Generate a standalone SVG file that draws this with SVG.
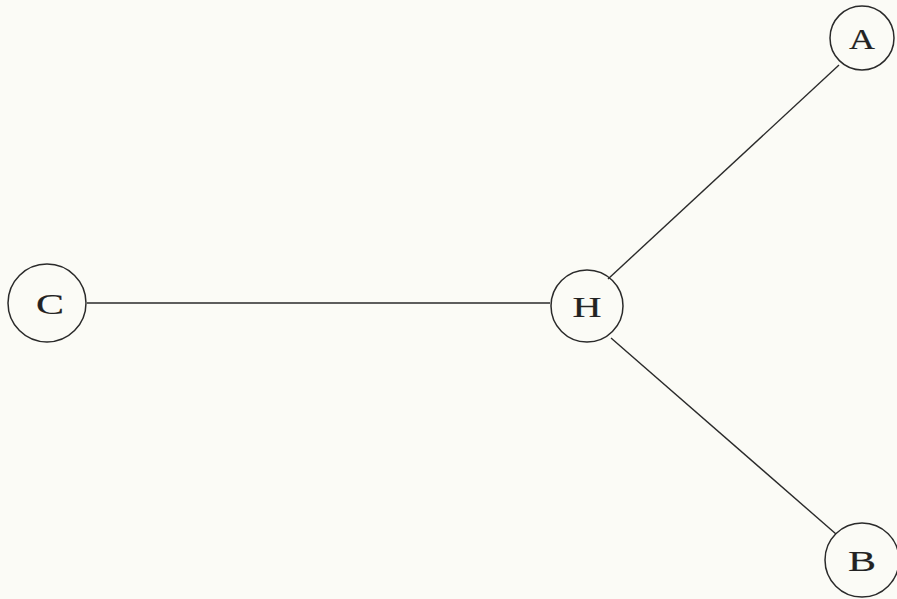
<svg xmlns="http://www.w3.org/2000/svg" width="897" height="599" viewBox="0 0 897 599">
<style>
.n{fill:none;stroke:#2a2a2a;stroke-width:1.5}
.t{font-family:"Liberation Serif","DejaVu Serif",serif;font-size:29px;fill:#222;stroke:#222;stroke-width:0.2;text-anchor:middle;dominant-baseline:central}
.e{stroke:#2a2a2a;stroke-width:1.4;fill:none}
</style>
<rect width="897" height="599" fill="#fbfbf6"/>
<g id="edges">
<line class="e" x1="87" y1="303" x2="550" y2="303"/>
<line class="e" x1="608" y1="279" x2="839" y2="65"/>
<line class="e" x1="611" y1="338" x2="836" y2="534"/>
</g>
<g id="A"><circle class="n" cx="862" cy="38" r="32"/><text class="t" x="862" y="39" textLength="26" lengthAdjust="spacingAndGlyphs">A</text></g>
<g id="C"><circle class="n" cx="47" cy="303" r="39"/><text class="t" x="50" y="304" textLength="28" lengthAdjust="spacingAndGlyphs">C</text></g>
<g id="H"><circle class="n" cx="587" cy="306" r="36"/><text class="t" x="587" y="307" textLength="29" lengthAdjust="spacingAndGlyphs">H</text></g>
<g id="B"><circle class="n" cx="862" cy="560" r="37"/><text class="t" x="862" y="561" textLength="28" lengthAdjust="spacingAndGlyphs">B</text></g>
</svg>
